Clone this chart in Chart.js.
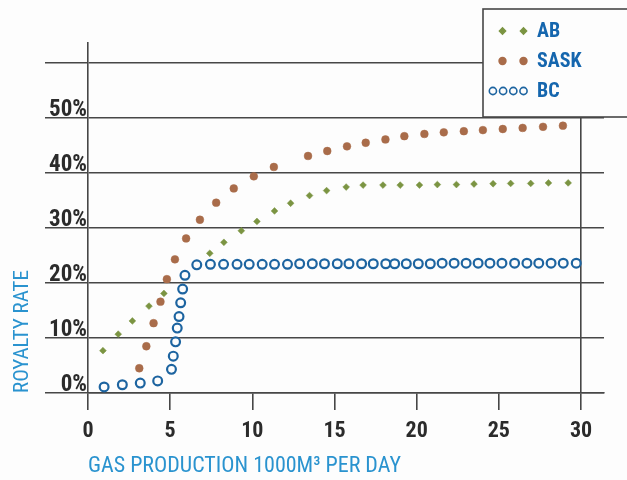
<!DOCTYPE html>
<html>
<head>
<meta charset="utf-8">
<script src="https://cdn.jsdelivr.net/npm/chart.js@4.4.1/dist/chart.umd.min.js"></script>
<style>
  html, body { margin: 0; padding: 0; background: #fdfdfd; }
</style>
</head>
<body>
<canvas id="royaltyChart" width="627" height="480"></canvas>
<script>
// --- data ---
const seriesNames = ['AB', 'SASK', 'BC'];

const abX = [0.91, 1.84, 2.70, 3.71, 4.62, 7.41, 8.27, 9.33, 10.28, 11.35, 12.33, 13.48, 14.52, 15.71,
  16.74, 17.95, 19.0, 20.17, 21.26, 22.42, 23.49, 24.65, 25.72, 26.94, 28.02, 29.22];
const abY = [7.7, 10.7, 13.1, 15.8, 18.1, 25.4, 27.4, 29.5, 31.2, 33.1, 34.5, 35.9, 36.8, 37.45,
  37.8, 37.8, 37.8, 37.8, 37.9, 37.9, 38.0, 38.05, 38.1, 38.1, 38.2, 38.2];

const saskX = [3.12, 3.55, 3.99, 4.41, 4.80, 5.29, 5.97, 6.81, 7.80, 8.87, 10.09, 11.31, 13.39, 14.56,
  15.76, 16.90, 18.10, 19.25, 20.47, 21.65, 22.87, 24.03, 25.24, 26.45, 27.69, 28.9];
const saskY = [4.5, 8.5, 12.7, 16.6, 20.7, 24.3, 28.1, 31.5, 34.6, 37.2, 39.4, 41.1, 43.1, 44.0,
  44.85, 45.5, 46.1, 46.7, 47.1, 47.4, 47.6, 47.8, 48.0, 48.2, 48.4, 48.6];

const bcX = [0.98, 2.09, 3.18, 4.24, 5.08, 5.19, 5.33, 5.43, 5.54, 5.64, 5.76, 5.90,
  6.62, 7.45, 8.25, 9.07, 9.81, 10.60, 11.35, 12.14, 12.88, 13.65, 14.39, 15.17, 15.88, 16.65,
  17.36, 18.12, 18.66, 19.37, 20.10, 20.83, 21.55, 22.28, 23.01, 23.74, 24.46, 25.19, 25.96,
  26.71, 27.43, 28.18, 28.92, 29.71];
const bcY = [1.1, 1.5, 1.8, 2.2, 4.3, 6.7, 9.3, 11.8, 13.9, 16.4, 18.9, 21.4,
  23.3, 23.4, 23.4, 23.4, 23.4, 23.4, 23.4, 23.4, 23.5, 23.5, 23.5, 23.5, 23.5, 23.5,
  23.5, 23.5, 23.5, 23.5, 23.5, 23.5, 23.6, 23.6, 23.6, 23.6, 23.6, 23.6, 23.6,
  23.6, 23.6, 23.6, 23.6, 23.6];

const xTickValues = [0, 5, 10, 15, 20, 25, 30];
const xTickLabels = ['0', '5', '10', '15', '20', '25', '30'];
const yTickValues = [0, 10, 20, 30, 40, 50, 60];
const yTickLabels = ['0%', '10%', '20%', '30%', '40%', '50%', ''];

const LINE = '#474747';
const NARROW = '"Roboto Condensed", "Open Sans Condensed", "Liberation Sans", sans-serif';
const toPoints = (xs, ys) => xs.map((x, i) => ({ x: x, y: ys[i] }));

// boxed legend in the top right corner, runs off the page edge like the original
const legendBox = {
  id: 'legendBox',
  afterDraw(chart, args, o) {
    const ctx = chart.ctx;
    ctx.save();
    ctx.fillStyle = o.fill;
    ctx.fillRect(o.left, o.top, o.width, o.height);
    ctx.strokeStyle = LINE;
    ctx.lineWidth = 1.6;
    ctx.strokeRect(o.left, o.top, o.width, o.height);
    ctx.font = o.font;
    ctx.textBaseline = 'middle';
    chart.data.datasets.forEach((ds, i) => {
      const y = o.top + o.firstRow + i * o.rowGap;
      const n = ds.legendMarks;
      const gap = n > 2 ? 10.2 : 21;
      ctx.fillStyle = ds.pointBackgroundColor;
      ctx.strokeStyle = ds.pointBorderColor;
      for (let k = 0; k < n; k++) {
        const x = o.markEnd - (n - 1 - k) * gap;
        Chart.helpers.drawPoint(ctx, {
          pointStyle: ds.pointStyle, radius: ds.legendRadius, borderWidth: ds.pointBorderWidth, rotation: 0
        }, x, y);
      }
      ctx.fillStyle = o.color;
      ctx.fillText(ds.label, o.textX, y + 1);
    });
    ctx.restore();
  }
};

new Chart(document.getElementById('royaltyChart'), {
  type: 'scatter',
  data: {
    datasets: [
      {
        label: seriesNames[0], data: toPoints(abX, abY), order: 1,
        pointStyle: 'rectRot', pointRadius: 3.4, pointBackgroundColor: '#7b9442',
        pointBorderColor: '#7b9442', pointBorderWidth: 0.5, legendMarks: 2, legendRadius: 3
      },
      {
        label: seriesNames[1], data: toPoints(saskX, saskY), order: 2,
        pointStyle: 'circle', pointRadius: 3.9, pointBackgroundColor: '#a96c4a',
        pointBorderColor: '#a96c4a', pointBorderWidth: 0.5, legendMarks: 2, legendRadius: 3.4
      },
      {
        label: seriesNames[2], data: toPoints(bcX, bcY), order: 0,
        pointStyle: 'circle', pointRadius: 4.4, pointBackgroundColor: '#fdfdfd',
        pointBorderColor: '#1d64a0', pointBorderWidth: 2.2, legendMarks: 4, legendRadius: 3.6
      }
    ]
  },
  options: {
    responsive: false,
    animation: false,
    layout: { padding: { top: 43, right: 23, left: 0, bottom: 0 } },
    plugins: {
      legend: { display: false },
      tooltip: { enabled: false },
      legendBox: {
        left: 483, top: 9, width: 160, height: 108, fill: '#fdfdfd',
        firstRow: 22, rowGap: 30, markEnd: 523.5, textX: 537,
        color: '#1566ae',
        font: 'bold 20px ' + NARROW
      }
    },
    scales: {
      x: {
        type: 'linear', min: 0, max: 31.4,
        afterBuildTicks: s => { s.ticks = xTickValues.map(v => ({ value: v })); },
        afterFit: s => { s.height = 87; },
        grid: {
          color: c => (c.tick && c.tick.value === 30 ? LINE : 'transparent'),
          tickColor: LINE, lineWidth: 1.6, tickWidth: 1.6, tickLength: 17
        },
        border: { color: LINE, width: 1.6 },
        ticks: {
          padding: 8, color: '#2b2b2b', font: { family: NARROW, size: 22, weight: 'bold' },
          callback: (v, i) => xTickLabels[i]
        },
        title: {
          display: true, text: 'GAS PRODUCTION 1000M\u00B3 PER DAY', align: 'start',
          color: '#2a93cf', font: { family: NARROW, size: 22 }, padding: { top: 0, bottom: 0 }
        }
      },
      y: {
        min: 0, max: 63.64,
        afterBuildTicks: s => { s.ticks = yTickValues.map(v => ({ value: v })); },
        afterFit: s => { s.width = 88; },
        grid: { color: LINE, lineWidth: 1.6, tickLength: 43 },
        border: { color: LINE, width: 1.6 },
        ticks: {
          padding: -42, labelOffset: -8, color: '#2b2b2b', font: { family: NARROW, size: 23, weight: 'bold' },
          callback: (v, i) => yTickLabels[i]
        },
        title: {
          display: true, text: 'ROYALTY RATE', align: 'start',
          color: '#2a93cf', font: { family: NARROW, size: 21 }, padding: { top: 10, bottom: 0 }
        }
      }
    }
  },
  plugins: [legendBox]
});
</script>
</body>
</html>
